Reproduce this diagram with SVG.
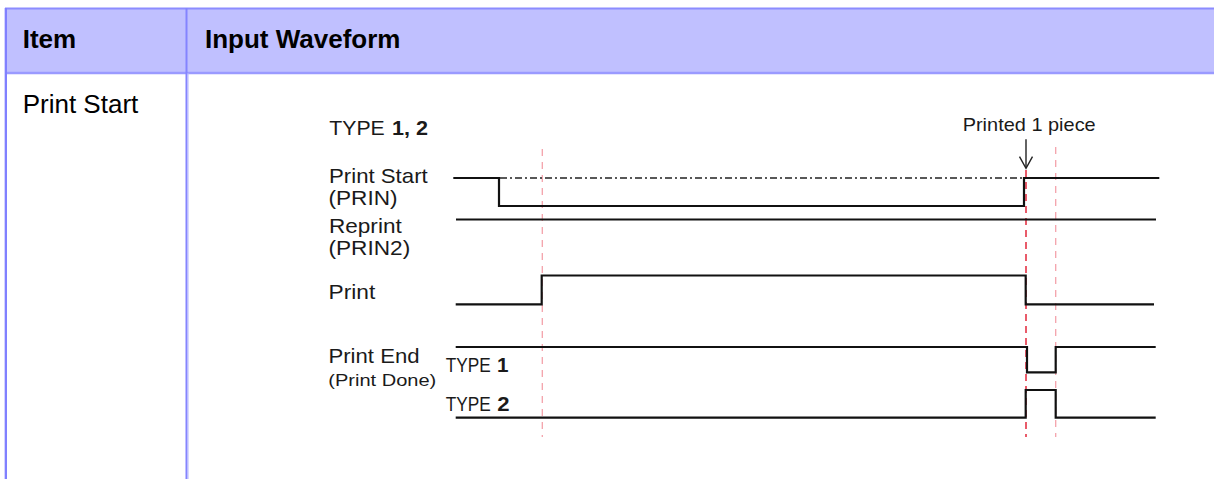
<svg xmlns="http://www.w3.org/2000/svg" width="1214" height="479" viewBox="0 0 1214 479">
<style>
.hd{font-family:"Liberation Sans",Arial,sans-serif;font-size:26px;font-weight:bold;fill:#000}
.cell{font-family:"Liberation Sans",Arial,sans-serif;font-size:26px;fill:#000}
.lb{font-family:"Liberation Sans",Arial,sans-serif;font-size:21px;fill:#1a1a1a}
.ty{font-family:"Liberation Sans",Arial,sans-serif;font-size:19.5px;fill:#1a1a1a}
.sm{font-family:"Liberation Sans",Arial,sans-serif;font-size:16px;fill:#1a1a1a}
.pc{font-family:"Liberation Sans",Arial,sans-serif;font-size:19px;fill:#1a1a1a}
.b{font-weight:bold}
.w{fill:none;stroke:#111;stroke-width:2.2;stroke-linejoin:miter}
.dd{fill:none;stroke:#222;stroke-width:1.3;stroke-dasharray:7 3 2 3}
.pk{fill:none;stroke:#f4a2ab;stroke-width:1.3;stroke-dasharray:7 6}
.rd{fill:none;stroke:#e2263a;stroke-width:1.5;stroke-dasharray:7 5}
</style>
<rect width="1214" height="479" fill="#fff"/>
<g id="table">
<rect x="5" y="8" width="1209" height="65" fill="#c0c0ff"/>
<line x1="5" y1="8.5" x2="1214" y2="8.5" stroke="#8c8cff" stroke-width="2"/>
<line x1="5" y1="73" x2="1214" y2="73" stroke="#9a9aff" stroke-width="2.5"/>
<line x1="4.5" y1="8" x2="4.5" y2="479" stroke="#d4d4ff" stroke-width="1"/>
<line x1="6" y1="8" x2="6" y2="479" stroke="#8080ff" stroke-width="2"/>
<line x1="186.5" y1="8" x2="186.5" y2="479" stroke="#8484ff" stroke-width="2"/>
<line x1="188" y1="73" x2="188" y2="479" stroke="#b4b4ff" stroke-width="1"/>
<text class="hd" x="22.7" y="48.3">Item</text>
<text class="hd" x="205" y="48.3">Input Waveform</text>
<text class="cell" x="22.7" y="113">Print Start</text>
</g>
<g id="labels">
<text class="lb" x="329.3" y="135" textLength="55.5" lengthAdjust="spacingAndGlyphs">TYPE</text>
<text class="lb b" x="392" y="135" textLength="36" lengthAdjust="spacingAndGlyphs">1, 2</text>
<text class="lb" x="329" y="183.3" textLength="98.7" lengthAdjust="spacingAndGlyphs">Print Start</text>
<text class="lb" x="328.5" y="205" textLength="69" lengthAdjust="spacingAndGlyphs">(PRIN)</text>
<text class="lb" x="329" y="232.7" textLength="72.7" lengthAdjust="spacingAndGlyphs">Reprint</text>
<text class="lb" x="328.5" y="254.7" textLength="81.7" lengthAdjust="spacingAndGlyphs">(PRIN2)</text>
<text class="lb" x="328.5" y="299.3" textLength="46.7" lengthAdjust="spacingAndGlyphs">Print</text>
<text class="lb" x="328.5" y="363.3" textLength="91" lengthAdjust="spacingAndGlyphs">Print End</text>
<text class="sm" x="328.3" y="385.8" textLength="108" lengthAdjust="spacingAndGlyphs">(Print Done)</text>
<text class="ty" x="445.7" y="371.7" textLength="45" lengthAdjust="spacingAndGlyphs">TYPE</text>
<text class="lb b" x="497" y="371.7" textLength="11.5" lengthAdjust="spacingAndGlyphs">1</text>
<text class="ty" x="445.7" y="411" textLength="45" lengthAdjust="spacingAndGlyphs">TYPE</text>
<text class="lb b" x="497.2" y="411" textLength="12.3" lengthAdjust="spacingAndGlyphs">2</text>
<text class="pc" x="962.7" y="130.7" textLength="133" lengthAdjust="spacingAndGlyphs">Printed 1 piece</text>
</g>
<g id="guides">
<line class="pk" x1="542.3" y1="149" x2="542.3" y2="437"/>
<line class="pk" x1="1055.7" y1="147" x2="1055.7" y2="437"/>
<line class="rd" x1="1026" y1="170" x2="1026" y2="437"/>
</g>
<g id="waveforms">
<line class="dd" x1="500" y1="178" x2="1023" y2="178"/>
<polyline id="prin" class="w" points="453.3,178 499,178 499,206 1024,206 1024,178 1159.3,178"/>
<polyline id="prin2" class="w" points="456,219.5 1156,219.5"/>
<polyline id="print" class="w" points="455.7,304.3 541.7,304.3 541.7,275.5 1025.7,275.5 1025.7,304.3 1154,304.3"/>
<polyline id="end1" class="w" points="455.7,347 1027,347 1027,372.3 1055.7,372.3 1055.7,347 1155.7,347"/>
<polyline id="end2" class="w" points="455.7,417.7 1025.7,417.7 1025.7,390 1055.7,390 1055.7,417.7 1155.7,417.7"/>
</g>
<g id="arrow" fill="none" stroke="#222" stroke-width="1.4">
<line x1="1026" y1="139.3" x2="1026" y2="168"/>
<polyline points="1019.5,156.7 1026,168.3 1032.5,156.7"/>
</g>
</svg>
